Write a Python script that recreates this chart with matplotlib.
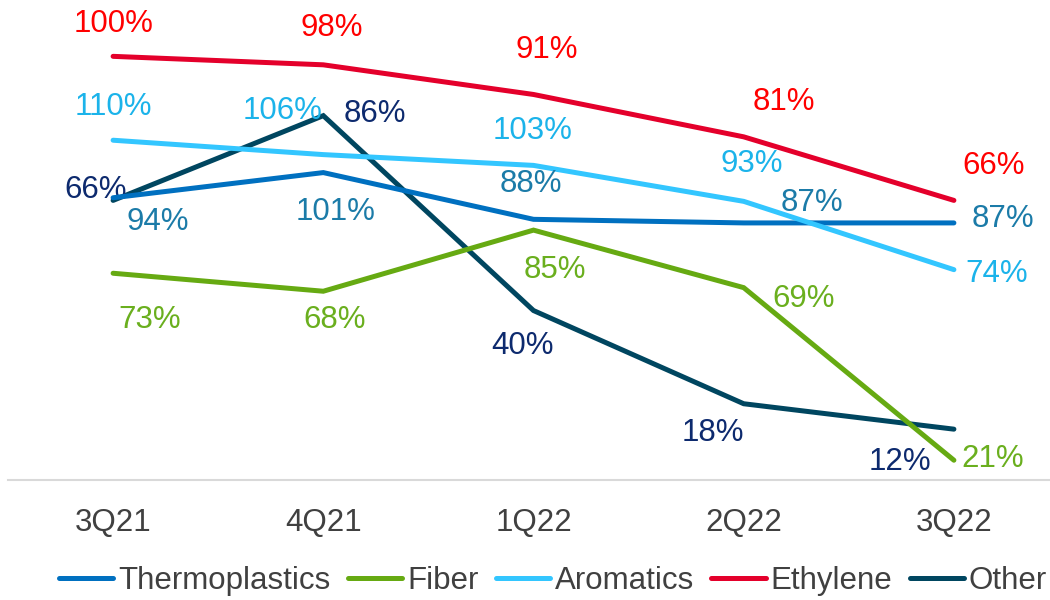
import matplotlib
matplotlib.use("Agg")
import matplotlib.pyplot as plt

plt.rcParams["font.family"] = ["Liberation Sans", "DejaVu Sans"]

quarters = ["3Q21", "4Q21", "1Q22", "2Q22", "3Q22"]

thermoplastics = [94, 101, 88, 87, 87]
fiber = [73, 68, 85, 69, 21]
aromatics = [110, 106, 103, 93, 74]
ethylene = [100, 98, 91, 81, 66]
other = [66, 86, 40, 18, 12]

W, H = 1050, 600
fig = plt.figure(figsize=(W / 100, H / 100), dpi=100)

# plot area in pixels (left, top, right, bottom)
L, T, R, B = 8, 0, 1059, 480
rect = [L / W, 1 - B / H, (R - L) / W, (B - T) / H]

ax1 = fig.add_axes(rect)           # primary scale: Ethylene, Other
ax2 = ax1.twinx()                  # secondary scale: Thermoplastics, Fiber, Aromatics
ax1.set_ylim(0, 113.3)
ax2.set_ylim(15.5, 149)

x = list(range(len(quarters)))
ax1.set_xlim(-0.5, 4.5)

FS = 22.5

series = [
    ("Thermoplastics", thermoplastics, ax2, "#0070C0", "#1B7BA8"),
    ("Fiber", fiber, ax2, "#66AA12", "#6AAF1E"),
    ("Aromatics", aromatics, ax2, "#33C6FF", "#1BB3EA"),
    ("Ethylene", ethylene, ax1, "#E4002B", "#FF0000"),
    ("Other", other, ax1, "#004660", "#0D2A6E"),
]

# label offsets in pixels (dx, dy) from each point; dy positive = up
label_offsets = {
    "Thermoplastics": [(45, -22), (12, -37), (-3, 37), (68, 22), (49, 6)],
    "Fiber": [(37, -45), (11, -27), (21, -38), (60, -9), (39, 3)],
    "Aromatics": [(0, 35), (-41, 46), (-1, 36), (8, 39), (43, -2)],
    "Ethylene": [(0, 34), (8, 39), (13, 46), (40, 37), (40, 36)],
    "Other": [(-17, 12), (52, 4), (-11, -33), (-31, -27), (-54, -31)],
}
LABEL_SHIFT = -2  # nudges every value label slightly down

handles = []
for name, vals, ax, lc, tc in series:
    (ln,) = ax.plot(x, vals, color=lc, lw=3.6, solid_capstyle="round",
                    solid_joinstyle="miter", label=name, zorder=3)
    handles.append(ln)
    for xi, v, (dx, dy) in zip(x, vals, label_offsets[name]):
        ax.annotate(f"{v}%", (xi, v),
                    xytext=(dx * 0.72, (dy + LABEL_SHIFT) * 0.72),
                    textcoords="offset points", ha="center", va="center",
                    fontsize=FS, color=tc, zorder=4)

for ax in (ax1, ax2):
    ax.set_yticks([])
    for s in ("top", "left", "right"):
        ax.spines[s].set_visible(False)
    ax.patch.set_visible(False)
ax2.spines["bottom"].set_visible(False)
ax1.spines["bottom"].set_color("#D9D9D9")
ax1.spines["bottom"].set_linewidth(1.5)
ax1.set_xticks(x)
ax1.set_xticklabels(quarters, fontsize=FS, color="#404040")
ax1.tick_params(axis="x", length=0, pad=20)

fig.legend(handles=handles, loc="center", bbox_to_anchor=(553 / W, 1 - 581 / H),
           ncol=5, frameon=False, fontsize=FS, handlelength=1.75,
           handletextpad=0.15, columnspacing=0.55, labelcolor="#404040",
           borderpad=0, borderaxespad=0)

fig.savefig("out.png", dpi=100)
